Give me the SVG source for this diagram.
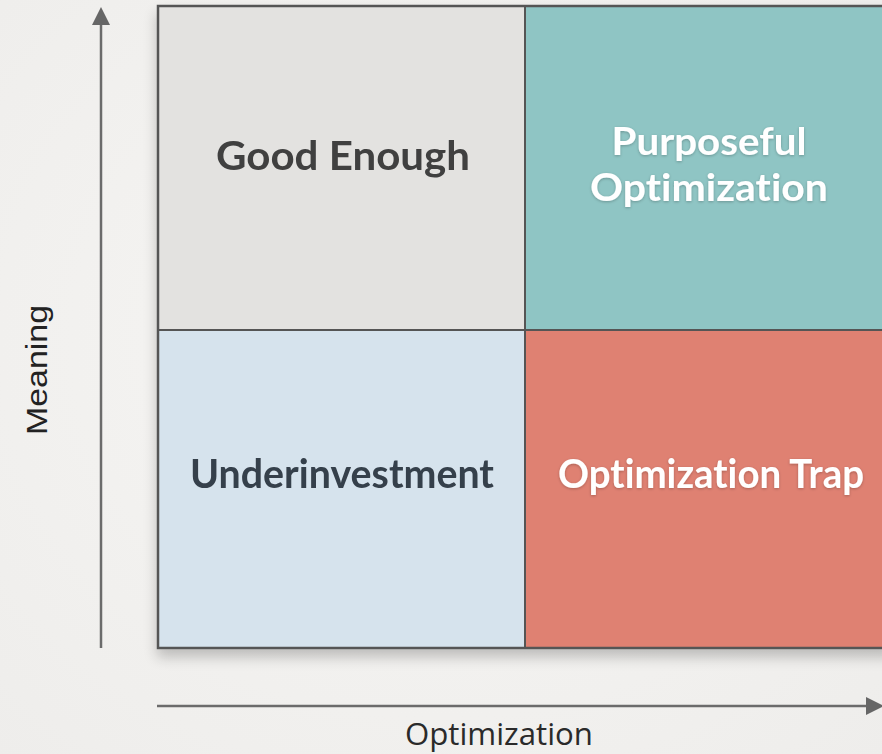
<svg xmlns="http://www.w3.org/2000/svg" width="882" height="754" viewBox="0 0 882 754">
  <defs>
    <radialGradient id="paper" cx="50%" cy="45%" r="75%">
      <stop offset="0" stop-color="#f7f6f4"/>
      <stop offset="1" stop-color="#eeedeb"/>
    </radialGradient>
    <filter id="drop" x="-10%" y="-10%" width="120%" height="125%">
      <feGaussianBlur in="SourceAlpha" stdDeviation="7"/>
      <feOffset dx="0" dy="8" result="b"/>
      <feComponentTransfer><feFuncA type="linear" slope="0.22"/></feComponentTransfer>
      <feMerge><feMergeNode/><feMergeNode in="SourceGraphic"/></feMerge>
    </filter>
    <filter id="glow" x="-5%" y="-20%" width="110%" height="140%">
      <feGaussianBlur in="SourceAlpha" stdDeviation="1.5"/>
      <feOffset dy="1"/>
      <feComponentTransfer><feFuncA type="linear" slope="0.25"/></feComponentTransfer>
      <feMerge><feMergeNode/><feMergeNode in="SourceGraphic"/></feMerge>
    </filter>
    <style>
      .dark { font-family: Lato, "Noto Sans", sans-serif; font-weight: 700; font-size: 40px; text-anchor: middle; font-variant-ligatures: none; }
      .two { font-size: 38px; }
      .light { fill: #ffffff; }
      .axis { fill: none; stroke: #6b6b6b; stroke-width: 2.5; }
      .frame { fill: none; stroke: #555; stroke-width: 2.5; }
      .grid { stroke: #555; stroke-width: 2; }
    </style>
  </defs>

  <rect x="0" y="0" width="882" height="754" fill="url(#paper)"/>

  <!-- axes -->
  <g id="connectors">
    <line class="axis" x1="101" y1="648" x2="101" y2="24"/>
    <path d="M101,7 L92,25 L110,25 z" fill="#666"/>
    <line class="axis" x1="157" y1="706" x2="866" y2="706"/>
    <path d="M884,706 L866,697 L866,715 z" fill="#666"/>
  </g>

  <!-- quadrant board -->
  <g filter="url(#drop)">
    <g id="good-enough">
      <rect x="158" y="6" width="367" height="324" fill="#e3e2e0"/>
      <text class="dark" x="343" y="170" fill="#404040" textLength="254" lengthAdjust="spacingAndGlyphs">Good Enough</text>
    </g>
    <g id="purposeful-optimization">
      <rect x="525" y="6" width="368" height="324" fill="#8fc5c4"/>
      <text class="dark two light" x="709" y="155" filter="url(#glow)" textLength="195" lengthAdjust="spacingAndGlyphs">Purposeful</text>
      <text class="dark two light" x="709" y="201" filter="url(#glow)" textLength="238" lengthAdjust="spacingAndGlyphs">Optimization</text>
    </g>
    <g id="underinvestment">
      <rect x="158" y="330" width="367" height="318" fill="#d6e3ed"/>
      <text class="dark" x="342" y="488" fill="#36404b" textLength="304" lengthAdjust="spacingAndGlyphs">Underinvestment</text>
    </g>
    <g id="optimization-trap">
      <rect x="525" y="330" width="368" height="318" fill="#df8172"/>
      <text class="dark light" x="711" y="488" filter="url(#glow)" textLength="306" lengthAdjust="spacingAndGlyphs">Optimization Trap</text>
    </g>
    <rect class="frame" x="158" y="6" width="735" height="642"/>
    <line class="grid" x1="525" y1="6" x2="525" y2="648"/>
    <line class="grid" x1="158" y1="330" x2="893" y2="330"/>
  </g>

  <!-- axis labels -->
  <text x="37" y="370" transform="rotate(-90 37 370)" font-family="'Liberation Sans', Arial, sans-serif" font-size="29" text-anchor="middle" dominant-baseline="central" fill="#222" textLength="130" lengthAdjust="spacingAndGlyphs">Meaning</text>
  <text x="499" y="745" font-family="'Open Sans', sans-serif" font-size="31" text-anchor="middle" fill="#2a2a2a" textLength="188" lengthAdjust="spacingAndGlyphs">Optimization</text>
</svg>
